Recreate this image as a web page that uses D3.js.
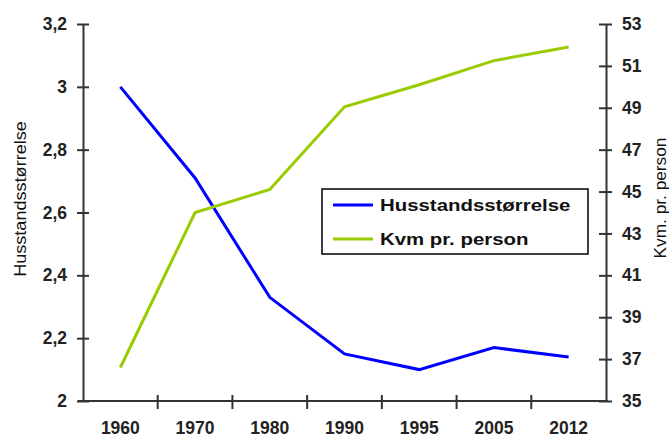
<!DOCTYPE html>
<html lang="no">
<head>
    <meta charset="UTF-8">
    <title>Husstandsstørrelse og kvm pr. person</title>
    <script src="https://cdnjs.cloudflare.com/ajax/libs/d3/7.8.5/d3.min.js"></script>
    <style>
        body {
            margin: 0;
            background: #fff;
            font-family: "Liberation Sans", Arial, sans-serif;
        }
        .axis path, .axis line {
            stroke: #333;
            stroke-width: 2px;
        }
        .axis text {
            font-family: "Liberation Sans", Arial, sans-serif;
            font-size: 17.5px;
            font-weight: bold;
            fill: #222;
        }
    </style>
</head>
<body>
    <svg id="chart" width="671" height="439"></svg>

    <script>
        // Data
        const years = ["1960", "1970", "1980", "1990", "1995", "2005", "2012"];
        const householdSize = [3.0, 2.71, 2.33, 2.15, 2.10, 2.17, 2.14];
        const sqmPerPerson = [36.6, 44.0, 45.1, 49.05, 50.1, 51.25, 51.9];
        const leftTicks = [2, 2.2, 2.4, 2.6, 2.8, 3, 3.2];
        const rightTicks = [35, 37, 39, 41, 43, 45, 47, 49, 51, 53];

        const svg = d3.select("#chart");
        const margin = { top: 24, right: 65, bottom: 38, left: 83 };
        const width = 671 - margin.left - margin.right;
        const height = 439 - margin.top - margin.bottom;

        const g = svg.append("g")
            .attr("transform", `translate(${margin.left},${margin.top})`);

        const x = d3.scaleBand().domain(years).range([0, width]).padding(0);
        const yL = d3.scaleLinear().domain([2, 3.2]).range([height, 0]);
        const yR = d3.scaleLinear().domain([35, 53]).range([height, 0]);

        const fmtComma = d => String(+d.toFixed(1)).replace(".", ",");

        // Left axis (ticks cross the line)
        const leftAxis = g.append("g").attr("class", "axis")
            .call(d3.axisLeft(yL).tickValues(leftTicks).tickFormat(fmtComma)
                .tickSize(6).tickSizeOuter(0).tickPadding(10));
        leftAxis.selectAll(".tick line").attr("x1", 6);

        // Right axis
        const rightAxis = g.append("g").attr("class", "axis")
            .attr("transform", `translate(${width},0)`)
            .call(d3.axisRight(yR).tickValues(rightTicks)
                .tickSize(6).tickSizeOuter(0).tickPadding(10));
        rightAxis.selectAll(".tick line").attr("x1", -7);

        // Bottom axis: labels centered in each band, ticks at band edges
        const bottomAxis = g.append("g").attr("class", "axis")
            .attr("transform", `translate(0,${height})`)
            .call(d3.axisBottom(x).tickSize(0).tickSizeOuter(0).tickPadding(21));
        bottomAxis.select(".domain").attr("d", `M-5,0H${width + 2}`);

        bottomAxis.selectAll(".edge")
            .data(years.slice(1))
            .enter()
            .append("line")
            .attr("class", "edge")
            .attr("x1", d => x(d))
            .attr("x2", d => x(d))
            .attr("y1", -6)
            .attr("y2", 8);

        // Axis titles (slightly stretched along the text, as in the original)
        svg.append("text")
            .attr("transform", "translate(26,199) rotate(-90) scale(1.13,1)")
            .attr("text-anchor", "middle")
            .attr("font-size", "16px")
            .attr("fill", "#111")
            .text("Husstandsstørrelse");

        svg.append("text")
            .attr("transform", "translate(666,198) rotate(-90) scale(1.08,1)")
            .attr("text-anchor", "middle")
            .attr("font-size", "16px")
            .attr("fill", "#111")
            .text("Kvm. pr. person");

        // Lines
        const cx = d => x(d) + x.bandwidth() / 2;

        const lineL = d3.line()
            .x((d, i) => cx(years[i]))
            .y(d => yL(d));
        const lineR = d3.line()
            .x((d, i) => cx(years[i]))
            .y(d => yR(d));

        g.append("path")
            .datum(householdSize)
            .attr("fill", "none")
            .attr("stroke", "#0000ff")
            .attr("stroke-width", 3)
            .attr("d", lineL);

        g.append("path")
            .datum(sqmPerPerson)
            .attr("fill", "none")
            .attr("stroke", "#99cc00")
            .attr("stroke-width", 3)
            .attr("d", lineR);

        // Legend
        const legend = svg.append("g").attr("transform", "translate(322,189)");
        legend.append("rect")
            .attr("width", 266)
            .attr("height", 65)
            .attr("fill", "#fff")
            .attr("stroke", "#000")
            .attr("stroke-width", 1.5);

        const legendItems = [
            { label: "Husstandsstørrelse", color: "#0000ff" },
            { label: "Kvm pr. person", color: "#99cc00" }
        ];

        const item = legend.selectAll(".item")
            .data(legendItems)
            .enter()
            .append("g")
            .attr("transform", (d, i) => `translate(0,${16 + i * 34})`);

        item.append("line")
            .attr("x1", 11).attr("x2", 51)
            .attr("stroke", d => d.color)
            .attr("stroke-width", 3);

        item.append("text")
            .attr("transform", "translate(58,0) scale(1.2,1)")
            .attr("dy", "0.35em")
            .attr("font-size", "17px")
            .attr("font-weight", "bold")
            .attr("fill", "#111")
            .text(d => d.label);
    </script>
</body>
</html>
